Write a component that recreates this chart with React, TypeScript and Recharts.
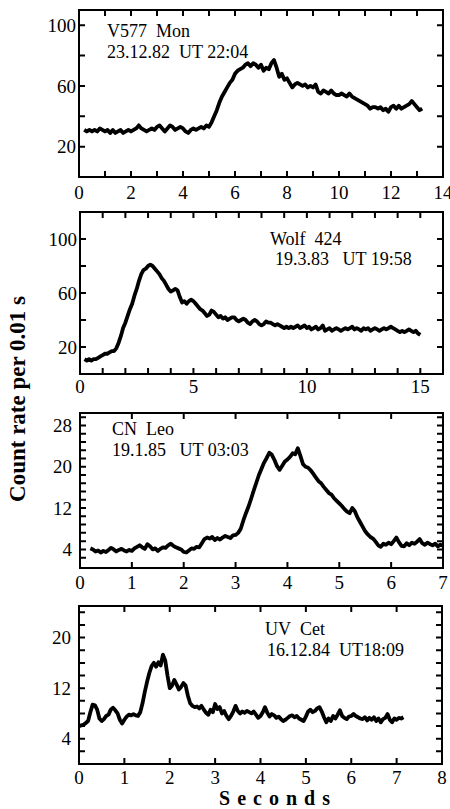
import React from 'react';
import { LineChart, Line, XAxis, YAxis, ReferenceArea, CartesianGrid } from 'recharts';

const FONT = 'Liberation Serif, DejaVu Serif, Times New Roman, serif';

// V577 Mon, sampled every 0.1 s from 0.2 s
const v577Start = 0.2;
const v577Step = 0.1;
const v577Counts = [
  31, 30, 31, 30, 31, 30, 32, 31, 30, 31,
  29, 31, 29, 30, 31, 29, 30, 31, 30, 31,
  32, 34, 32, 31, 30, 31, 32, 31, 33, 34,
  32, 30, 32, 34, 33, 31, 32, 33, 32, 30,
  29, 31, 32, 31, 32, 33, 32, 34, 33, 36,
  40, 44, 49, 53, 56, 59, 62, 64, 68, 70,
  71, 72, 74, 75, 73, 75, 74, 72, 74, 70,
  72, 71, 75, 77, 72, 66, 68, 64, 65, 62,
  59, 61, 62, 61, 60, 61, 59, 60, 59, 61,
  56, 55, 57, 56, 55, 57, 55, 54, 54, 55,
  54, 53, 55, 53, 52, 51, 50, 49, 48, 47,
  45, 46, 46, 45, 46, 44, 45, 43, 46, 47,
  45, 47, 45, 46, 47, 48, 50, 48, 46, 44,
  45,
];

// Wolf 424, every 0.1 s from 0.2 s
const wolfStart = 0.2;
const wolfStep = 0.1;
const wolfCounts = [
  11, 10, 11, 10, 11, 11, 12, 13, 14, 15,
  15, 16, 17, 17, 19, 23, 28, 34, 38, 43,
  48, 52, 58, 63, 69, 74, 77, 78, 80, 81,
  80, 78, 76, 74, 71, 69, 66, 63, 61, 62,
  63, 62, 57, 53, 54, 52, 54, 55, 54, 52,
  50, 48, 47, 45, 43, 44, 47, 46, 44, 42,
  43, 41, 42, 40, 41, 42, 42, 40, 39, 40,
  41, 40, 38, 37, 39, 40, 39, 37, 36, 37,
  39, 38, 38, 37, 36, 37, 36, 35, 34, 35,
  34, 35, 34, 35, 36, 34, 35, 36, 34, 35,
  33, 34, 35, 33, 34, 36, 32, 33, 34, 32,
  33, 34, 33, 32, 33, 34, 33, 34, 35, 33,
  34, 33, 32, 34, 33, 34, 32, 33, 34, 33,
  32, 33, 34, 33, 34, 35, 34, 33, 32, 31,
  32, 31, 32, 33, 32, 31, 32, 30, 29,
];

// CN Leo, every 0.05 s from 0.2 s
const cnStart = 0.2;
const cnStep = 0.05;
const cnCounts = [
  4.2, 4.0, 3.6, 3.8, 3.4, 3.7, 3.5, 3.9, 4.3, 4.0,
  3.6, 3.9, 4.1, 3.8, 3.6, 3.9, 3.7, 4.2, 4.5, 4.8,
  4.4, 4.1, 5.0, 4.6, 4.0, 4.2, 3.7, 4.1, 4.4, 4.3,
  4.8, 5.1, 4.7, 4.4, 4.2, 4.0, 3.5, 3.4, 3.8, 4.2,
  4.1, 4.5, 4.4, 5.2, 6.0, 6.3, 6.1, 6.4, 5.8, 6.2,
  5.9, 6.3, 6.6, 6.4, 6.2, 6.7, 6.8, 7.2, 8.0, 9.6,
  11.0, 12.3, 13.8, 15.4, 16.9, 18.4, 19.6, 20.8, 21.7, 22.7,
  22.3, 21.3, 20.1, 19.4, 20.2, 21.0, 21.4, 21.9, 22.6, 22.4,
  23.6, 22.1, 20.5, 20.0, 19.8, 19.3, 18.6, 17.9, 17.2, 16.8,
  16.1, 15.5, 14.9, 14.6, 13.9, 13.4, 12.9, 12.4, 11.8, 11.3,
  11.0, 12.0, 11.4, 10.2, 9.3, 8.4, 7.5, 6.9, 6.4, 6.1,
  5.5, 4.8, 4.5, 5.1, 4.9, 5.3, 5.0, 5.6, 6.3, 5.4,
  4.7, 4.6, 5.2, 4.8, 5.3, 5.1, 5.5, 6.0, 5.2, 4.9,
  5.3, 5.0, 4.8, 5.1, 4.6, 4.9, 4.7,
];

// UV Cet, every 0.05 s from 0 s
const uvStart = 0;
const uvStep = 0.05;
const uvCounts = [
  6.0, 6.1, 6.2, 6.5, 6.8, 8.2, 9.4, 9.3, 8.6, 7.2,
  6.8, 7.1, 7.6, 7.8, 8.6, 8.9, 8.5, 8.0, 7.0, 6.4,
  7.0, 7.5, 7.8, 7.7, 7.9, 7.7, 7.6, 8.2, 9.6, 11.4,
  13.0, 14.4, 15.5, 16.0, 15.4, 16.1, 15.6, 17.3, 16.4, 14.0,
  12.0, 12.4, 13.3, 12.6, 11.8, 12.2, 12.8, 12.4, 10.8, 9.6,
  9.2, 9.0, 9.1, 8.8, 9.2, 8.6, 8.1, 7.8, 8.6, 8.2,
  9.5, 8.7, 9.0, 8.0, 8.4, 7.6, 7.1, 7.6, 8.3, 9.2,
  8.4, 8.0, 8.3, 8.1, 8.4, 8.2, 8.0, 8.3, 7.8, 7.3,
  7.6, 8.2, 9.0, 8.1, 7.5, 7.9, 7.7, 7.3, 7.5, 7.1,
  6.8, 7.0, 7.3, 7.6, 7.7, 7.4, 7.6, 7.2, 7.0, 6.8,
  7.5, 8.3, 8.6, 8.2, 8.4, 8.8, 9.0, 8.3, 7.4, 6.6,
  7.2, 6.8, 7.6, 7.2, 7.8, 8.5, 7.6, 7.3, 7.1, 7.5,
  7.6, 7.9, 7.6, 7.4, 7.2, 7.1, 7.4, 6.9, 7.3, 7.0,
  7.4, 6.8, 7.2, 6.6, 7.1, 7.3, 7.9, 7.0, 6.6, 7.2,
  7.0, 7.3, 7.2, 7.4,
];

// axis ticks and labelled values
const v577XTicks = [0, 1, 2, 3, 4, 5, 6, 7, 8, 9, 10, 11, 12, 13, 14];
const v577XLabels = [0, 2, 4, 6, 8, 10, 12, 14];
const v577YTicks = [20, 40, 60, 80, 100];
const v577YLabels = [20, 60, 100];

const wolfXTicks = [0, 1, 2, 3, 4, 5, 6, 7, 8, 9, 10, 11, 12, 13, 14, 15, 16];
const wolfXLabels = [0, 5, 10, 15];
const wolfYTicks = [20, 40, 60, 80, 100];
const wolfYLabels = [20, 60, 100];

const cnXTicks = [0, 1, 2, 3, 4, 5, 6, 7];
const cnXLabels = [0, 1, 2, 3, 4, 5, 6, 7];
const cnYTicks = [2.4, 4, 5.6, 7.2, 8.8, 10.4, 12, 13.6, 15.2, 16.8, 18.4, 20, 21.6, 23.2, 24.8, 26.4, 28, 29.6];
const cnYLabels = [4, 12, 20, 28];

const uvXTicks = [0, 1, 2, 3, 4, 5, 6, 7, 8];
const uvXLabels = [0, 1, 2, 3, 4, 5, 6, 7, 8];
const uvYTicks = [2, 4, 6, 8, 10, 12, 14, 16, 18, 20, 22, 24];
const uvYLabels = [4, 12, 20];

const toRows = (start: number, step: number, counts: number[]) =>
  counts.map((v, i) => ({ t: +(start + i * step).toFixed(3), v }));

const isLabel = (labels: number[], v: number) => labels.some((l) => Math.abs(l - v) < 1e-6);

const TICK_LEN = 6;

interface PanelProps {
  top: number;
  bottom: number;
  left: number;
  right: number;
  data: { t: number; v: number }[];
  xDomain: [number, number];
  xTicks: number[];
  xLabels: number[];
  yDomain: [number, number];
  yTicks: number[];
  yLabels: number[];
  xMargin: number;
  yMargin: number;
}

function Panel(p: PanelProps) {
  const pad = 10;
  const axisH = 32;
  const h = p.bottom - p.top + pad + axisH;
  const plotW = p.right - p.left;
  const plotH = p.bottom - p.top;
  const [x0, x1] = p.xDomain;
  const [y0, y1] = p.yDomain;

  const BottomLabel = (props: any) => {
    const { x, y, payload } = props;
    if (!isLabel(p.xLabels, payload.value)) return <g />;
    return (
      <text x={x} y={y} dy="0.71em" textAnchor="middle" fontFamily={FONT} fontSize={19} fill="#000">
        {payload.value}
      </text>
    );
  };

  const LeftLabel = (props: any) => {
    const { x, y, payload } = props;
    if (!isLabel(p.yLabels, payload.value)) return <g />;
    return (
      <text x={x} y={y} dy="0.355em" textAnchor="end" fontFamily={FONT} fontSize={19} fill="#000">
        {payload.value}
      </text>
    );
  };

  return (
    <div style={{ position: 'absolute', left: 0, top: p.top - pad, width: 450, height: h }}>
      <LineChart width={450} height={h} data={p.data} margin={{ top: pad, right: 450 - p.right, bottom: 0, left: 0 }}>
        {/* inward tick marks: grid lines dashed so only the ends at the frame show */}
        <CartesianGrid
          xAxisId="b"
          yAxisId="l"
          horizontal={false}
          vertical
          stroke="#000"
          strokeWidth={2}
          strokeDasharray={`${TICK_LEN} ${plotH - 2 * TICK_LEN} ${TICK_LEN}`}
        />
        <CartesianGrid
          xAxisId="b"
          yAxisId="l"
          horizontal
          vertical={false}
          stroke="#000"
          strokeWidth={2}
          strokeDasharray={`${TICK_LEN} ${plotW - 2 * TICK_LEN} ${TICK_LEN}`}
        />
        <XAxis
          xAxisId="b"
          dataKey="t"
          type="number"
          domain={p.xDomain}
          ticks={p.xTicks}
          interval={0}
          allowDataOverflow
          height={axisH}
          tickSize={0}
          tickMargin={p.xMargin}
          axisLine={false}
          tickLine={false}
          tick={BottomLabel}
        />
        <YAxis
          yAxisId="l"
          type="number"
          domain={p.yDomain}
          ticks={p.yTicks}
          interval={0}
          allowDataOverflow
          width={p.left}
          tickSize={0}
          tickMargin={p.yMargin}
          axisLine={false}
          tickLine={false}
          tick={LeftLabel}
        />
        <ReferenceArea
          xAxisId="b"
          yAxisId="l"
          x1={x0}
          x2={x1}
          y1={y0}
          y2={y1}
          fill="none"
          fillOpacity={0}
          stroke="#000"
          strokeWidth={2}
          strokeOpacity={1}
        />
        <Line
          xAxisId="b"
          yAxisId="l"
          type="linear"
          dataKey="v"
          stroke="#000"
          strokeWidth={3.8}
          strokeLinejoin="round"
          dot={false}
          isAnimationActive={false}
        />
      </LineChart>
    </div>
  );
}

export default function App() {
  return (
    <div style={{ position: 'absolute', left: 0, top: 0, width: 450, height: 809, background: '#fff', overflow: 'hidden' }}>
      <Panel
        top={10} bottom={177} left={79} right={443}
        data={toRows(v577Start, v577Step, v577Counts)}
        xDomain={[0, 14]} xTicks={v577XTicks} xLabels={v577XLabels}
        yDomain={[0, 110]} yTicks={v577YTicks} yLabels={v577YLabels}
        xMargin={9} yMargin={3}
      />
      <Panel
        top={212} bottom={374} left={80} right={443}
        data={toRows(wolfStart, wolfStep, wolfCounts)}
        xDomain={[0, 16]} xTicks={wolfXTicks} xLabels={wolfXLabels}
        yDomain={[0, 120]} yTicks={wolfYTicks} yLabels={wolfYLabels}
        xMargin={6} yMargin={3}
      />
      <Panel
        top={413} bottom={568} left={80} right={443}
        data={toRows(cnStart, cnStep, cnCounts)}
        xDomain={[0, 7]} xTicks={cnXTicks} xLabels={cnXLabels}
        yDomain={[0.4, 30.4]} yTicks={cnYTicks} yLabels={cnYLabels}
        xMargin={8} yMargin={8}
      />
      <Panel
        top={606} bottom={764} left={79} right={442}
        data={toRows(uvStart, uvStep, uvCounts)}
        xDomain={[0, 8]} xTicks={uvXTicks} xLabels={uvXLabels}
        yDomain={[0, 25]} yTicks={uvYTicks} yLabels={uvYLabels}
        xMargin={7} yMargin={8}
      />
      <svg width={450} height={809} style={{ position: 'absolute', left: 0, top: 0, pointerEvents: 'none' }}>
        <text x={107} y={37} fontFamily={FONT} fontSize={18} fill="#000">V577{'\u00a0\u00a0'}Mon</text>
        <text x={107} y={58} fontFamily={FONT} fontSize={18} fill="#000">23.12.82{'\u00a0\u00a0'}UT 22:04</text>
        <text x={270} y={245} fontFamily={FONT} fontSize={18} fill="#000">Wolf{'\u00a0\u00a0'}424</text>
        <text x={275} y={265} fontFamily={FONT} fontSize={18} fill="#000">19.3.83{'\u00a0\u00a0\u00a0'}UT 19:58</text>
        <text x={112} y={435} fontFamily={FONT} fontSize={18} fill="#000">CN{'\u00a0\u00a0'}Leo</text>
        <text x={112} y={456} fontFamily={FONT} fontSize={18} fill="#000">19.1.85{'\u00a0\u00a0\u00a0'}UT 03:03</text>
        <text x={265} y={635} fontFamily={FONT} fontSize={18} fill="#000">UV{'\u00a0\u00a0'}Cet</text>
        <text x={267} y={656} fontFamily={FONT} fontSize={18} fill="#000">16.12.84{'\u00a0\u00a0'}UT18:09</text>
        <text
          x={25}
          y={399}
          transform="rotate(-90 25 399)"
          textAnchor="middle"
          fontFamily={FONT}
          fontSize={23}
          fontWeight="bold"
          fill="#000"
        >
          Count rate per 0.01 s
        </text>
        <text
          x={278}
          y={805}
          textAnchor="middle"
          fontFamily={FONT}
          fontSize={20}
          fontWeight="bold"
          letterSpacing={7}
          fill="#000"
        >
          Seconds
        </text>
      </svg>
    </div>
  );
}
